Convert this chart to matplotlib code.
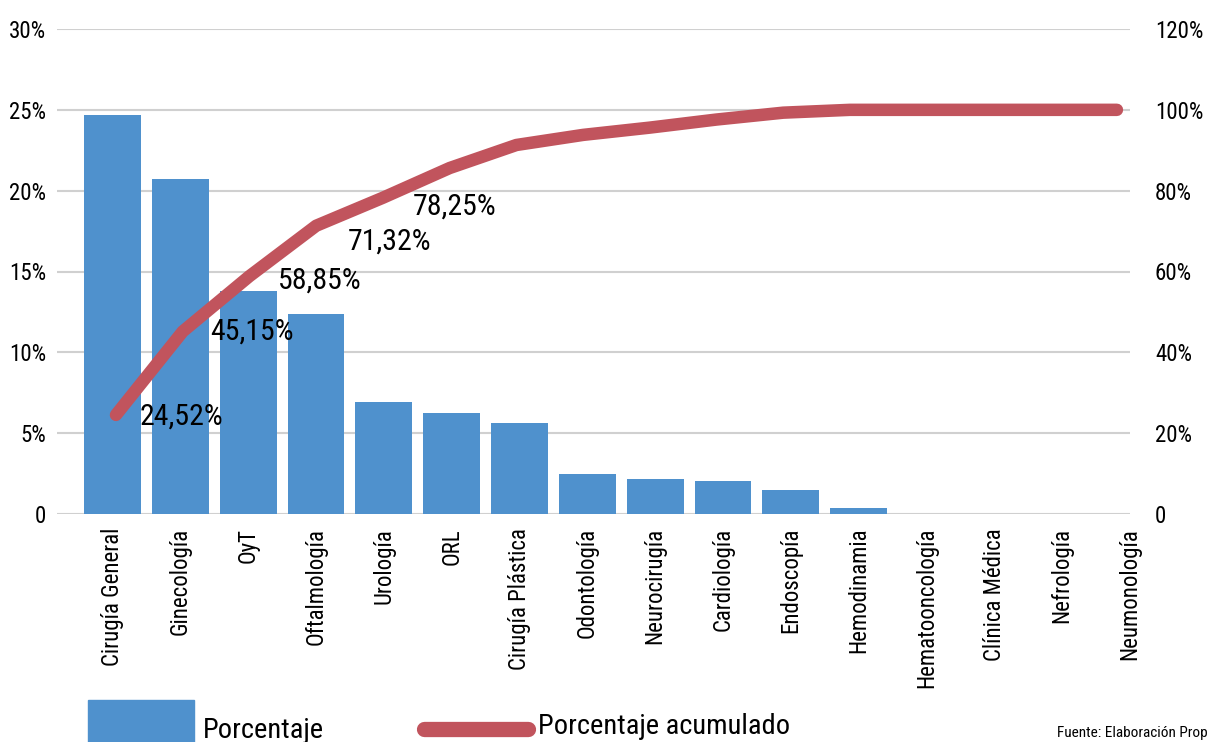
import matplotlib

matplotlib.use("Agg")
import matplotlib.pyplot as plt
from matplotlib.lines import Line2D
from matplotlib.patches import Rectangle
from matplotlib.ticker import FuncFormatter

plt.rcParams["font.family"] = ["Roboto Condensed", "DejaVu Sans"]

services = [
    "Cirugía General", "Ginecología", "OyT", "Oftalmología", "Urología", "ORL",
    "Cirugía Plástica", "Odontología", "Neurocirugía", "Cardiología", "Endoscopía",
    "Hemodinamia", "Hematooncología", "Clínica Médica", "Nefrología", "Neumonología",
]
percent = [24.7, 20.7, 13.8, 12.35, 6.95, 6.25, 5.6, 2.5, 2.15, 2.05, 1.5, 0.35, 0, 0, 0, 0]
cumulative = [24.52, 45.15, 58.85, 71.32, 78.25, 85.6, 91.3, 93.8, 95.6, 97.6, 99.3, 100,
              100, 100, 100, 100]
labelled_points = 5

BLUE = "#4f91cd"
RED = "#c1545d"
GRID = "#d0d0d0"

W, H = 1208, 742
fig = plt.figure(figsize=(W / 100, H / 100), dpi=100)
rect = (57 / W, 1 - 514 / H, (1130 - 57) / W, (514 - 29) / H)


def pct_fmt(v, _):
    return "0" if v == 0 else f"{v:.0f}%"


# bars
ax = fig.add_axes(rect)
xs = list(range(len(services)))
ax.bar(xs, percent, width=0.84, color=BLUE, zorder=2)
ax.set_xlim(-0.818, 14.945)
ax.set_ylim(0, 30)
ax.set_yticks(range(0, 31, 5))
ax.yaxis.set_major_formatter(FuncFormatter(pct_fmt))
ax.set_xticks(xs)
ax.set_xticklabels(services, rotation=90, fontsize=16.5, va="top", ha="center")
ax.tick_params(axis="both", length=0, labelsize=16.5)
ax.tick_params(axis="y", pad=8)
ax.tick_params(axis="x", pad=10)
ax.grid(axis="y", color=GRID, linewidth=1.5, zorder=0)
for s in ax.spines.values():
    s.set_visible(False)
ax.set_axisbelow(True)

# cumulative line on its own axes, spread a little tighter than the bars
ax2 = fig.add_axes(rect, frameon=False)
ax2.plot(xs, cumulative, color=RED, linewidth=9, solid_capstyle="round",
         solid_joinstyle="round", zorder=3)
ax2.set_xlim(-0.884, 15.196)
ax2.set_ylim(0, 120)
ax2.set_yticks(range(0, 121, 20))
ax2.yaxis.tick_right()
ax2.yaxis.set_major_formatter(FuncFormatter(pct_fmt))
ax2.tick_params(axis="y", length=0, labelsize=16.5, pad=18)
ax2.set_xticks([])

offsets = [(24, -2), (27, 0), (28, -4), (32, -16), (30, -9)]
for i in range(labelled_points):
    val = cumulative[i]
    ax2.annotate(f"{val:.2f}%".replace(".", ","), (xs[i], val),
                 xytext=offsets[i], textcoords="offset pixels",
                 ha="left", va="center", fontsize=21.5, color="black", zorder=4)

# legend drawn along the bottom edge
fig.add_artist(Rectangle((88 / W, 0), (194 - 88) / W, 42 / H,
                         transform=fig.transFigure, color=BLUE))
fig.text(203 / W, 1 - 730 / H, "Porcentaje", fontsize=20.5, va="center", ha="left")
fig.add_artist(Line2D([424 / W, 528 / W], [1 - 729 / H] * 2, transform=fig.transFigure,
                      color=RED, linewidth=11, solid_capstyle="round"))
fig.text(538 / W, 1 - 727 / H, "Porcentaje acumulado", fontsize=20.5, va="center", ha="left")
fig.text(1057 / W, 1 - 733 / H, "Fuente: Elaboración Propia", fontsize=11,
         va="center", ha="left")

fig.savefig("out.png", dpi=100)
